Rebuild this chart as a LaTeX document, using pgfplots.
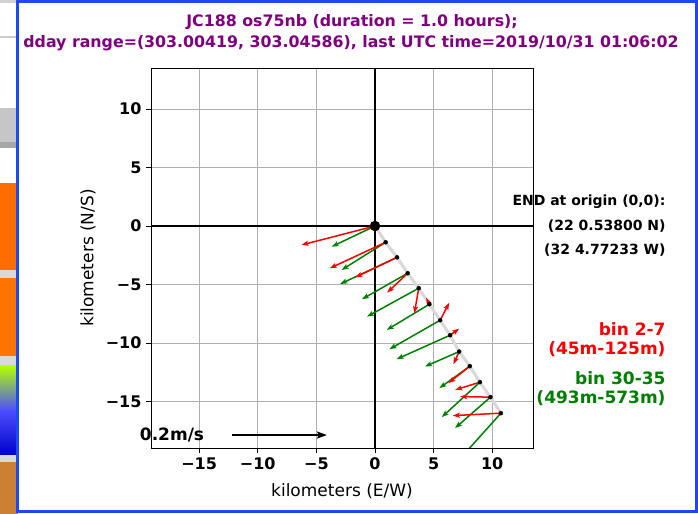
\documentclass[border=0pt]{standalone}
\usepackage{fontspec}
\setmainfont{DejaVu Sans}
\usepackage{pgfplots}
\usepackage{pgfplotstable}
\pgfplotsset{compat=1.18}
\usetikzlibrary{arrows.meta}
\definecolor{mplgreen}{HTML}{008000}
\definecolor{mplred}{HTML}{FF0000}
\definecolor{mplpurple}{HTML}{800080}
\definecolor{frameblue}{HTML}{1E46FF}
\definecolor{gridgray}{HTML}{B0B0B0}
\definecolor{trackgray}{HTML}{D8D8D8}

% ship track (km), last point = END at origin
\pgfplotstableread{
x y
0 0
0.91 -1.39
1.88 -2.68
2.79 -4.04
3.73 -5.32
4.64 -6.69
5.56 -8.06
6.41 -9.34
7.18 -10.74
8.09 -11.99
8.95 -13.36
9.85 -14.64
10.74 -16.01
}\tracktab

% bin 30-35 (green)
\pgfplotstableread{
x y u v
0 0 -3.70 -1.77
0.91 -1.39 -3.76 -2.37
1.88 -2.68 -4.85 -2.28
2.79 -4.04 -3.90 -2.22
3.73 -5.32 -4.41 -2.43
4.64 -6.69 -3.64 -2.20
5.56 -8.06 -4.33 -2.48
6.41 -9.34 -4.56 -2.05
7.18 -10.74 -2.91 -1.28
8.09 -11.99 -2.60 -1.88
8.95 -13.36 -3.25 -2.99
9.85 -14.64 -3.02 -2.65
10.74 -16.01 -3.30 -3.70
}\greentab

% bin 2-7 (red)
\pgfplotstableread{
x y u v
0 0 -6.27 -1.62
0.91 -1.39 -4.76 -2.22
1.88 -2.68 -3.56 -1.71
2.79 -4.04 -1.76 -1.66
3.73 -5.32 -0.37 -2.14
4.64 -6.69 -0.28 0.55
5.56 -8.06 0.77 1.50
6.41 -9.34 0.77 0.56
7.18 -10.74 -0.49 -1.08
8.09 -11.99 -1.83 -1.45
8.95 -13.36 -2.11 -0.66
9.85 -14.64 -2.59 0.05
10.74 -16.01 -4.10 -0.21
}\redtab

\begin{document}
\begin{tikzpicture}
\useasboundingbox (0,0) rectangle (698bp,514bp);
\begin{scope}[x=1bp,y=1bp]
\fill[white] (0,0) rectangle (698,514);
% left strip: edge of neighbouring window
\fill[gray!35] (0,511) rectangle (18,514);
\fill[gray!40] (0,476) rectangle (18,478);
\fill[gray!45] (0,372) rectangle (18,406);
\fill[gray!70] (0,366) rectangle (18,372);
\fill[orange!85!red] (0,244) rectangle (18,331);
\fill[gray!30] (0,236) rectangle (18,244);
\fill[orange!90!red] (0,158) rectangle (18,236);
\fill[gray!30] (0,148) rectangle (18,158);
\shade[top color=yellow!70!green, bottom color=blue!80!black, middle color=blue!70] (0,59) rectangle (18,148);
\fill[gray!30] (0,52) rectangle (18,59);
\fill[brown!80!orange] (0,0) rectangle (18,52);
\end{scope}

\begin{axis}[
  at={(151bp,66bp)}, anchor=south west,
  width=382bp, height=380bp, scale only axis,
  xmin=-19.11, xmax=13.48, ymin=-18.99, ymax=13.52,
  xtick={-15,-10,-5,0,5,10}, xticklabels={−15,−10,−5,0,5,10},
  ytick={-15,-10,-5,0,5,10}, yticklabels={−15,−10,−5,0,5,10},
  xtick pos=lower, ytick pos=left,
  tick align=outside, major tick length=5bp,
  tick style={black, line width=0.8bp},
  axis line style={black, line width=0.8bp},
  grid=major, grid style={gridgray, line width=0.8bp},
  tick label style={font=\fontsize{16bp}{19bp}\selectfont\bfseries},
  xticklabel style={yshift=-1bp},
  yticklabel style={xshift=-1bp},
  xlabel={kilometers (E/W)}, ylabel={kilometers (N/S)},
  label style={font=\fontsize{17bp}{20bp}\selectfont},
  xlabel style={at={(axis description cs:0.5,-0.113)}, anchor=center},
  ylabel style={at={(axis description cs:-0.165,0.5)}, anchor=center, rotate=0},
]
\addplot[black, line width=1.8bp] coordinates {(-19.11,0) (13.48,0)};
\addplot[black, line width=1.8bp] coordinates {(0,-18.99) (0,13.52)};
\addplot[trackgray, line width=3bp] table[x=x,y=y] {\tracktab};
\addplot[mplgreen, line width=1.5bp, quiver={u=\thisrow{u}, v=\thisrow{v}},
  -{Stealth[length=7bp,width=5bp,inset=1.5bp]}] table[x=x,y=y] {\greentab};
\addplot[mplred, line width=1.5bp, quiver={u=\thisrow{u}, v=\thisrow{v}},
  -{Stealth[length=7bp,width=5bp,inset=1.5bp]}] table[x=x,y=y] {\redtab};
\addplot[only marks, mark=*, mark size=2bp, black] table[x=x,y=y] {\tracktab};
\addplot[only marks, mark=*, mark size=5bp, black] coordinates {(0,0)};
% scale arrow 0.2 m/s
\addplot[black, line width=2.6bp, -{Stealth[length=10bp,width=7bp,inset=2bp]}] coordinates {(-12.2,-17.88) (-4.1,-17.88)};
\end{axis}

\begin{scope}[x=1bp,y=1bp]
\node[font=\fontsize{17bp}{20bp}\selectfont\bfseries] at (172,79) {0.2m/s};
\node[font=\fontsize{15.8bp}{19bp}\selectfont\bfseries, text=mplpurple] at (352,492) {JC188 os75nb (duration = 1.0 hours);};
\node[font=\fontsize{15.8bp}{19bp}\selectfont\bfseries, text=mplpurple] at (351,471) {dday range=(303.00419, 303.04586), last UTC time=2019/10/31 01:06:02};
\node[anchor=east, font=\fontsize{14bp}{17bp}\selectfont\bfseries] at (669,312) {END at origin (0,0):};
\node[anchor=east, font=\fontsize{14bp}{17bp}\selectfont\bfseries] at (669,288) {(22 0.53800 N)};
\node[anchor=east, font=\fontsize{14bp}{17bp}\selectfont\bfseries] at (669,264) {(32 4.77233 W)};
\node[anchor=east, font=\fontsize{17bp}{20bp}\selectfont\bfseries, text=mplred] at (669,185) {bin 2-7};
\node[anchor=east, font=\fontsize{17bp}{20bp}\selectfont\bfseries, text=mplred] at (669,165) {(45m-125m)};
\node[anchor=east, font=\fontsize{17bp}{20bp}\selectfont\bfseries, text=mplgreen] at (669,136) {bin 30-35};
\node[anchor=east, font=\fontsize{17bp}{20bp}\selectfont\bfseries, text=mplgreen] at (669,116) {(493m-573m)};
\draw[frameblue, line width=3bp] (17.5,2.5) rectangle (696.5,512.5);
\end{scope}
\end{tikzpicture}
\end{document}
